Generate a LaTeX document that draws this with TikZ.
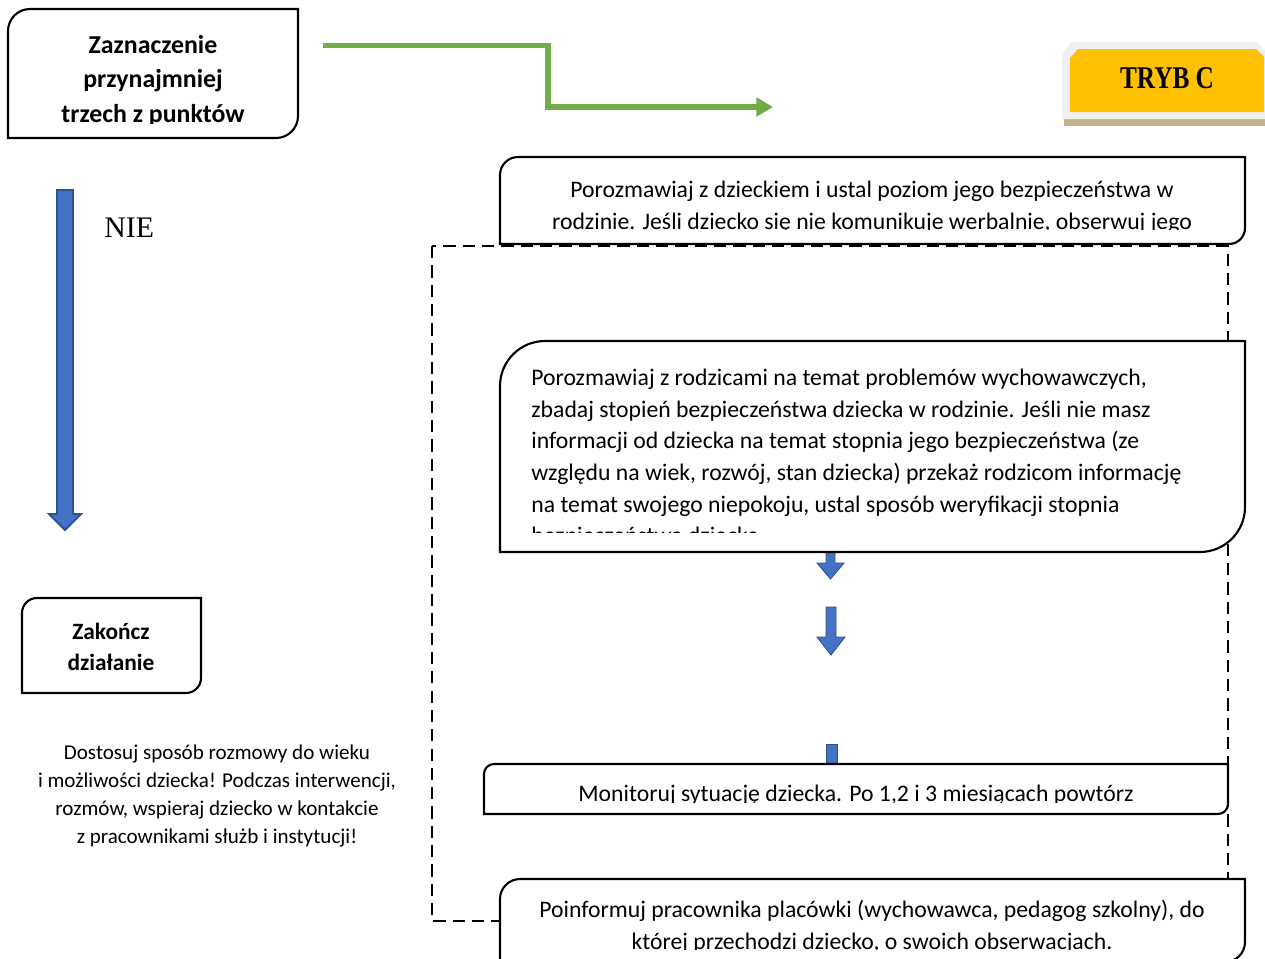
\documentclass[tikz,border=0pt]{standalone}
\usepackage{fontspec}
\usepackage{graphicx}
\setmainfont{Carlito}
\newfontfamily\timesfont{Liberation Serif}
\usetikzlibrary{arrows.meta}

\definecolor{arrblue}{HTML}{4472C4}
\definecolor{arrnavy}{HTML}{2F528F}
\definecolor{arrgreen}{HTML}{70AD47}
\definecolor{trybyellow}{HTML}{FFC000}
\definecolor{trybgray}{HTML}{F0F0F0}
\definecolor{trybtan}{HTML}{C4B48C}

\begin{document}
\begin{tikzpicture}[
  x=0.02cm, y=-0.02cm,
  txt/.style={inner sep=0pt, font=\fontsize{13.5}{18}\selectfont},
  boldtxt/.style={inner sep=0pt, align=center, anchor=north},
  boxline/.style={draw, line width=1.2pt, fill=white},
  dashedline/.style={draw, line width=1.1pt, dash pattern=on 7pt off 4pt},
  blockarr/.style={fill=arrblue, draw=arrnavy, line width=0.5pt},
  greenarr/.style={draw=arrgreen, line width=3.3pt, -{Triangle[length=9.5pt,width=10.5pt]}}
]
\useasboundingbox (0,0) rectangle (1265,958);

\draw[dashedline] (432,246) rectangle (1228,921);

\draw[blockarr] (826,540) -- (835,540) -- (835,563) -- (844,563) -- (830.5,579) -- (817,563) -- (826,563) -- cycle;
\draw[blockarr] (826,607) -- (836,607) -- (836,637) -- (845,637) -- (831,655) -- (817,637) -- (826,637) -- cycle;
\draw[blockarr] (826,744) -- (837,744) -- (837,775) -- (826,775) -- cycle;

\path[boxline] (8,138) -- (8,31) arc[start angle=180, end angle=90, radius=0.44cm] -- (298,9) -- (298,116) arc[start angle=0, end angle=-90, radius=0.44cm] -- cycle;
\begin{scope}
  \clip (8,9) rectangle (298,123);
  \node[boldtxt, font=\bfseries\fontsize{14.7}{19.55}\selectfont] (zazn) at (153,29) {\strut Zaznaczenie\\przynajmniej\\trzech z punktów};
\end{scope}

\path[boxline] (500,244) -- (500,175) arc[start angle=180, end angle=90, radius=0.36cm] -- (1245,157) -- (1245,228) arc[start angle=0, end angle=-90, radius=0.32cm] -- cycle;
\begin{scope}
  \clip (500,157) rectangle (1245,229.5);
  \node[txt, align=center, anchor=north] (rozmDz) at (872,175) {\strut Porozmawiaj z dzieckiem i ustal poziom jego bezpieczeństwa w\\rodzinie. Jeśli dziecko się nie komunikuje werbalnie, obserwuj jego};
\end{scope}

\path[boxline] (500,552) -- (500,386) arc[start angle=180, end angle=90, radius=0.9cm] -- (1245,341) -- (1245,507) arc[start angle=0, end angle=-90, radius=0.9cm] -- cycle;
\begin{scope}
  \clip (500,341) rectangle (1245,532);
  \node[txt, align=left, anchor=north west] (rozmRodz) at (531,363) {\strut Porozmawiaj z rodzicami na temat problemów wychowawczych,\\zbadaj stopień bezpieczeństwa dziecka w rodzinie. Jeśli nie masz\\informacji od dziecka na temat stopnia jego bezpieczeństwa (ze\\względu na wiek, rozwój, stan dziecka) przekaż rodzicom informację\\na temat swojego niepokoju, ustal sposób weryfikacji stopnia\\bezpieczeństwa dziecka.};
\end{scope}

\path[boxline] (484,814) -- (484,774) arc[start angle=180, end angle=90, radius=0.2cm] -- (1228,764) -- (1228,804) arc[start angle=0, end angle=-90, radius=0.2cm] -- cycle;
\begin{scope}
  \clip (484,764) rectangle (1228,802);
  \node[txt, align=center, anchor=north] (monit) at (856,779) {\strut Monitoruj sytuację dziecka. Po 1,2 i 3 miesiącach powtórz};
\end{scope}

\path[boxline] (500,962) -- (500,899) arc[start angle=180, end angle=90, radius=0.4cm] -- (1245,879) -- (1245,942) arc[start angle=0, end angle=-90, radius=0.4cm] -- cycle;
\begin{scope}
  \clip (500,879) rectangle (1245,949);
  \node[txt, align=center, anchor=north] (poinf) at (872,895) {\strut Poinformuj pracownika placówki (wychowawca, pedagog szkolny), do\\której przechodzi dziecko, o swoich obserwacjach.};
\end{scope}

\path[boxline] (22,693) -- (22,613) arc[start angle=180, end angle=90, radius=0.3cm] -- (201,598) -- (201,678) arc[start angle=0, end angle=-90, radius=0.3cm] -- cycle;
\node[boldtxt, font=\bfseries\fontsize{13.3}{17.9}\selectfont] (zakoncz) at (111,617) {\strut Zakończ\\działanie};

\node[inner sep=0pt, align=center, anchor=north, font=\fontsize{12}{15.9}\selectfont] (uwaga) at (217,740) {\strut Dostosuj sposób rozmowy do wieku\\i możliwości dziecka! Podczas interwencji,\\rozmów, wspieraj dziecko w kontakcie\\z pracownikami służb i instytucji!};

\draw[blockarr, line width=1.1pt] (57,190) -- (73,190) -- (73,514) -- (81,514) -- (65,530) -- (49,514) -- (57,514) -- cycle;
\node[inner sep=0pt, anchor=base west, font=\timesfont\fontsize{17}{20}\selectfont] (nie) at (104,237) {NIE};

\coordinate (gstart) at (323,45.5);
\coordinate (gend) at (773,107);
\draw[greenarr] (gstart) -- (548,45.5) -- (548,107) -- (gend);

\fill[trybtan] (1064,117) rectangle (1268,126);
\fill[trybgray] (1062,54) -- (1071,42) -- (1256,42) -- (1268,54) -- (1268,119) -- (1062,119) -- cycle;
\fill[trybyellow] (1070,58) -- (1078,49) -- (1256,49) -- (1264,57) -- (1264,112) -- (1070,112) -- cycle;
\node[inner sep=0pt, anchor=base, font=\timesfont\bfseries\fontsize{18}{20}\selectfont] (tryb) at (1167,88) {\scalebox{0.8}[1]{TRYB C}};
\end{tikzpicture}
\end{document}
